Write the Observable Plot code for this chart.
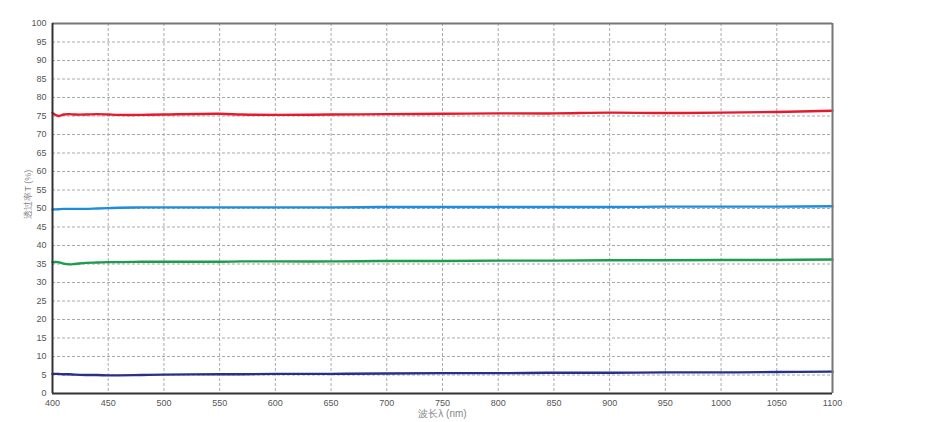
<!DOCTYPE html>
<html>
<head>
<meta charset="utf-8">
<script src="https://cdn.jsdelivr.net/npm/d3@7"></script>
<script src="https://cdn.jsdelivr.net/npm/@observablehq/plot@0.6"></script>
<style>
  html, body { margin: 0; padding: 0; background: #fff; }
  #chart svg { display: block; }
</style>
</head>
<body>
<div id="chart"></div>
<script>
// Wavelength sample points (nm)
const wavelengths = [400, 405, 410, 415, 420, 430, 440, 450, 460, 480, 500, 550, 570, 600, 650, 700, 750, 800, 850, 900, 950, 1000, 1050, 1100];

// Transmittance series (%)
const sampleA = [75.8, 75.0, 75.4, 75.5, 75.4, 75.4, 75.5, 75.4, 75.3, 75.3, 75.4, 75.6, 75.4, 75.3, 75.4, 75.5, 75.6, 75.7, 75.7, 75.9, 75.8, 75.9, 76.1, 76.4];
const sampleB = [49.7, 49.8, 49.9, 49.9, 49.9, 49.9, 50.0, 50.1, 50.2, 50.3, 50.3, 50.3, 50.3, 50.3, 50.3, 50.4, 50.4, 50.4, 50.4, 50.4, 50.5, 50.5, 50.5, 50.6];
const sampleC = [35.5, 35.5, 35.1, 34.9, 35.0, 35.3, 35.4, 35.5, 35.5, 35.6, 35.6, 35.6, 35.7, 35.7, 35.7, 35.8, 35.8, 35.9, 35.9, 36.0, 36.0, 36.1, 36.1, 36.2];
const sampleD = [5.3, 5.3, 5.2, 5.2, 5.1, 5.0, 5.0, 4.9, 4.9, 5.0, 5.1, 5.2, 5.2, 5.3, 5.3, 5.4, 5.5, 5.5, 5.6, 5.6, 5.7, 5.7, 5.8, 5.9];

const seriesNames = ["A", "B", "C", "D"];
const seriesColors = ["#e51a2d", "#1f8ddb", "#1c9c4c", "#2a2f8e"];
const seriesValues = [sampleA, sampleB, sampleC, sampleD];

const xTicks = d3.range(400, 1101, 50);
const yTicks = d3.range(0, 101, 5);

const data = seriesNames.flatMap((name, i) =>
  wavelengths.map((w, j) => ({series: name, w, t: seriesValues[i][j]}))
);

const W = 941, H = 422;
const mL = 52, mR = 109, mT = 23, mB = 29;

const chart = Plot.plot({
  width: W,
  height: H,
  marginLeft: mL,
  marginRight: mR,
  marginTop: mT,
  marginBottom: mB,
  style: {fontFamily: "Arial, 'Liberation Sans', sans-serif", fontSize: "9px", color: "#555", background: "#fff"},
  x: {domain: [400, 1100], label: null},
  y: {domain: [0, 100], label: null},
  color: {domain: seriesNames, range: seriesColors},
  marks: [
    Plot.gridX(xTicks.filter(d => d > 400 && d < 1100), {stroke: "#aaa", strokeOpacity: 1, strokeDasharray: "3,2", strokeWidth: 1}),
    Plot.gridY(yTicks.filter(d => d > 0 && d < 100), {stroke: "#aaa", strokeOpacity: 1, strokeDasharray: "3,2", strokeWidth: 1}),
    Plot.line(data, {x: "w", y: "t", z: "series", stroke: "series", strokeWidth: 2.4, curve: "catmull-rom"}),
    // frame: top & right grey, left & bottom dark
    Plot.ruleY([100], {stroke: "#777", strokeWidth: 2}),
    Plot.ruleX([1100], {stroke: "#777", strokeWidth: 2}),
    Plot.ruleX([400], {stroke: "#333", strokeWidth: 2}),
    Plot.ruleY([0], {stroke: "#333", strokeWidth: 2}),
    Plot.axisX(xTicks, {tickSize: 0, tickPadding: 6, fill: "#555", tickFormat: d3.format("d"), label: null}),
    Plot.axisY(yTicks, {tickSize: 0, tickPadding: 6, fill: "#555", tickFormat: d3.format("d"), label: null}),
    Plot.text(["透过率T (%)"], {frameAnchor: "left", dx: -24, dy: 10, rotate: -90, fontSize: 9, fill: "#888"}),
    Plot.text(["波长λ (nm)"], {frameAnchor: "bottom", dy: 20, fontSize: 10, fill: "#888", lineAnchor: "middle"})
  ]
});

document.getElementById("chart").appendChild(chart);
</script>
</body>
</html>
